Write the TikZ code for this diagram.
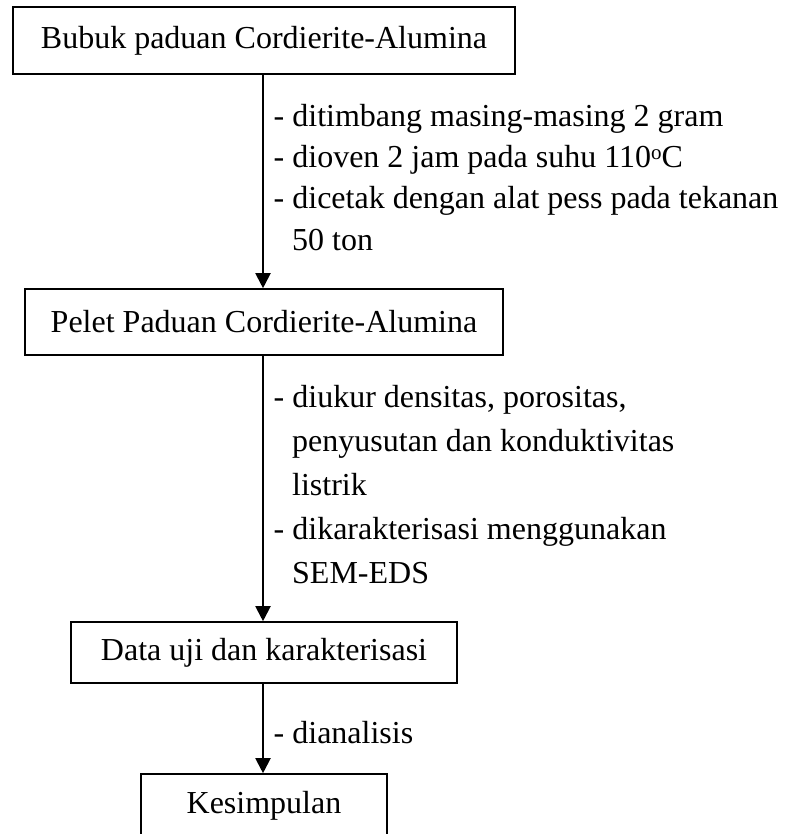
\documentclass[tikz,border=0pt]{standalone}
\usepackage{fontspec}
\setmainfont{Liberation Serif}
\usetikzlibrary{arrows.meta}
\begin{document}
\begin{tikzpicture}[x=1pt,y=-1pt,
  box/.style={draw,line width=1.6pt,inner sep=0pt,font=\fontsize{32}{40}\selectfont},
  lbl/.style={anchor=base west,inner sep=0pt,font=\fontsize{32}{40}\selectfont},
  arr/.style={line width=2pt,-{Triangle[length=15pt,width=15pt]}}]
\useasboundingbox (0,0) rectangle (787,834);
\node[box,minimum width=502pt,minimum height=67pt] (b1) at (264,40.5) {Bubuk paduan Cordierite-Alumina};
\node[box,minimum width=478pt,minimum height=66pt] (b2) at (264,322) {Pelet Paduan Cordierite-Alumina};
\node[box,minimum width=386pt,minimum height=61pt] (b3) at (264,652.5) {Data uji dan karakterisasi};
\node[box,minimum width=246pt,minimum height=64pt] (b4) at (264,806) {Kesimpulan};
\coordinate (ax) at (263,0);
\draw[arr] (b1.south -| ax) -- (b2.north -| ax);
\draw[arr] (b2.south -| ax) -- (b3.north -| ax);
\draw[arr] (b3.south -| ax) -- (b4.north -| ax);
\node[lbl] (a1) at (273.5,127) {- ditimbang masing-masing 2 gram};
\node[lbl] (a2) at (273.5,168) {- dioven 2 jam pada suhu 110\raisebox{0.6ex}{\fontsize{21}{21}\selectfont o}C};
\node[lbl] (a3) at (273.5,209) {- dicetak dengan alat pess pada tekanan};
\node[lbl] (a4) at (292,250) {50 ton};
\node[lbl] (c1) at (273.5,407) {- diukur densitas, porositas,};
\node[lbl] (c2) at (292,451) {penyusutan dan konduktivitas};
\node[lbl] (c3) at (292,495) {listrik};
\node[lbl] (c4) at (273.5,539) {- dikarakterisasi menggunakan};
\node[lbl] (c5) at (292,583) {SEM-EDS};
\node[lbl] (d1) at (273.5,743) {- dianalisis};
\end{tikzpicture}
\end{document}
